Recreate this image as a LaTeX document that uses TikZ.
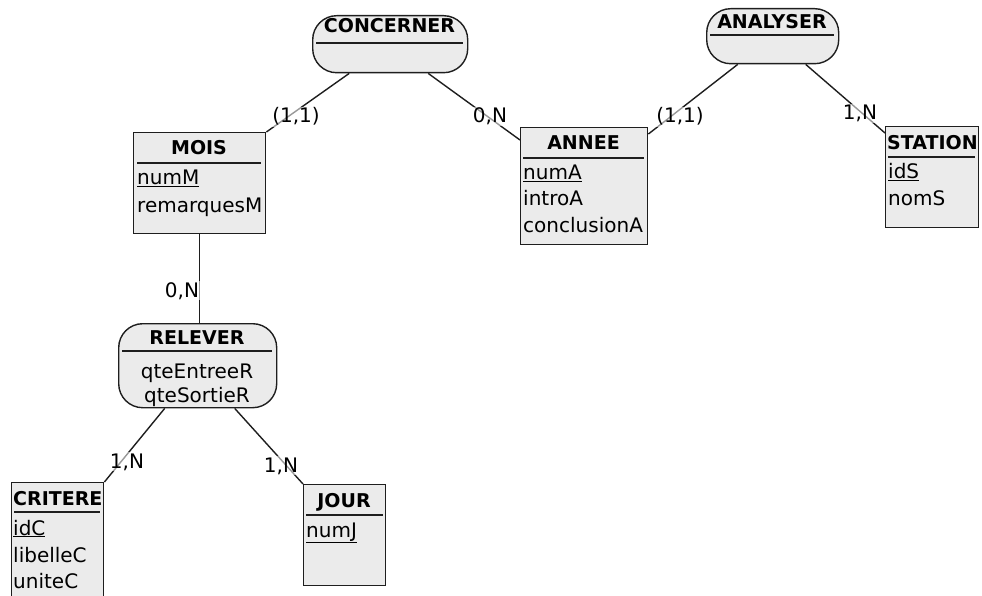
\documentclass[tikz,border=0pt]{standalone}
\usepackage{fontspec}
\setmainfont{DejaVu Sans}
\definecolor{boxgray}{HTML}{EBEBEB}
\definecolor{edge}{HTML}{1E1E1E}
\begin{document}
\begin{tikzpicture}[x=1pt,y=-1pt]
\tikzset{
  ent/.style={draw=edge, line width=1.4pt, fill=boxgray, inner sep=0pt, anchor=north west, rectangle},
  assoc/.style={ent, rounded corners=24pt},
  hdr/.style={font=\fontsize{19}{23}\selectfont\bfseries, anchor=base, inner sep=0pt},
  hdrw/.style={hdr, anchor=base west},
  attr/.style={font=\fontsize{20}{24}\selectfont, anchor=base west, inner sep=0pt},
  attrc/.style={attr, anchor=base},
  sepline/.style={draw=edge, line width=1.4pt},
  link/.style={draw=edge, line width=1.4pt},
  card/.style={font=\fontsize{20}{24}\selectfont, anchor=base, inner sep=1pt, fill=white, fill opacity=0.55, text opacity=1},
}
\useasboundingbox (0,0) rectangle (982,596);

% ---------- associations ----------
\node[assoc, minimum width=155pt, minimum height=57pt] (concerner) at (312,15) {};
\node[hdr] (concernerT) at (389.5,33) {CONCERNER};
\draw[sepline] (316,43) -- (463,43);

\node[assoc, minimum width=132pt, minimum height=55pt] (analyser) at (706,8) {};
\node[hdr] (analyserT) at (772,29) {ANALYSER};
\draw[sepline] (710,35) -- (834,35);

\node[assoc, minimum width=158pt, minimum height=84pt] (relever) at (118,323) {};
\node[hdr] (releverT) at (197,344) {RELEVER};
\draw[sepline] (122,351) -- (272,351);
\node[attrc] (relever1) at (197,378) {qteEntreeR};
\node[attrc] (relever2) at (197,402) {qteSortieR};

% ---------- entities ----------
\node[ent, minimum width=132pt, minimum height=101pt] (mois) at (133,132) {};
\node[hdr] (moisT) at (199,155) {MOIS};
\draw[sepline] (137,163) -- (261,163);
\node[attr] (mois1) at (137,185) {\underline{numM}};
\node[attr] (mois2) at (137,212) {remarquesM};

\node[ent, minimum width=127pt, minimum height=117pt] (annee) at (520,127) {};
\node[hdr] (anneeT) at (583.5,150) {ANNEE};
\draw[sepline] (523,158) -- (644,158);
\node[attr] (annee1) at (523,180) {\underline{numA}};
\node[attr] (annee2) at (523,206) {introA};
\node[attr] (annee3) at (523,232) {conclusionA};

\node[ent, minimum width=93pt, minimum height=101pt] (station) at (885,126) {};
\node[hdrw] (stationT) at (887,150) {STATION};
\draw[sepline] (888,157) -- (975,157);
\node[attr] (station1) at (888,179) {\underline{idS}};
\node[attr] (station2) at (888,206) {nomS};

\node[ent, minimum width=92pt, minimum height=120pt] (critere) at (11,482) {};
\node[hdrw] (critereT) at (13,505) {CRITERE};
\draw[sepline] (14,512) -- (100,512);
\node[attr] (critere1) at (13,535) {\underline{idC}};
\node[attr] (critere2) at (13,562) {libelleC};
\node[attr] (critere3) at (13,588) {uniteC};

\node[ent, minimum width=82pt, minimum height=101pt] (jour) at (303,484) {};
\node[hdr] (jourT) at (344,507) {JOUR};
\draw[sepline] (306,515) -- (383,515);
\node[attr] (jour1) at (306,537) {\underline{numJ}};

% ---------- connectors ----------
\draw[link] ([xshift=-41pt]concerner.south) -- (mois.north east);
\draw[link] ([xshift=38pt]concerner.south) -- ([yshift=-13pt]annee.north west);
\draw[link] ([xshift=-35pt]analyser.south) -- ([yshift=-7pt]annee.north east);
\draw[link] ([xshift=33pt]analyser.south) -- ([yshift=-7pt]station.north west);
\draw[link] (mois.south) -- (mois.south |- relever.north);
\draw[link] ([xshift=-33pt]relever.south) -- (critere.north east);
\draw[link] ([xshift=37pt]relever.south) -- (jour.north west);

% ---------- cardinalities ----------
\node[card] (c1) at (296,123) {(1,1)};
\node[card] (c2) at (490,123) {0,N};
\node[card] (c3) at (680,123) {(1,1)};
\node[card] (c4) at (860,120) {1,N};
\node[card] (c5) at (182,297) {0,N};
\node[card] (c6) at (127,468) {1,N};
\node[card] (c7) at (281,472) {1,N};
\end{tikzpicture}
\end{document}
